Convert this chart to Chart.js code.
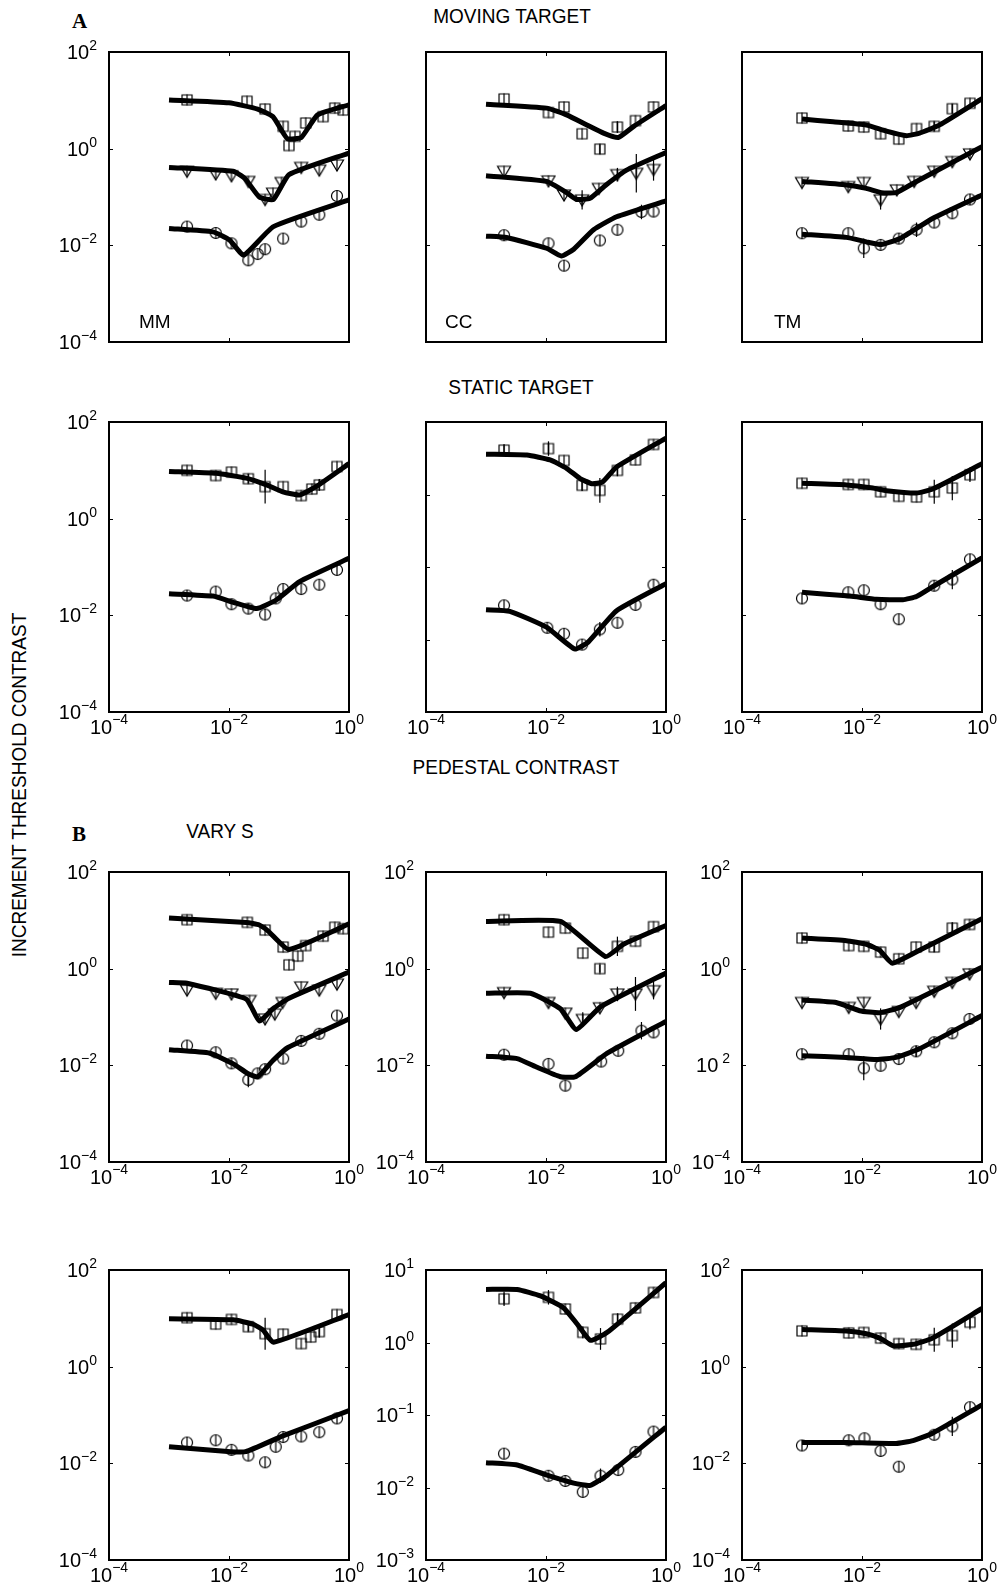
<!DOCTYPE html>
<html>
<head>
<meta charset="utf-8">
<script src="https://cdn.jsdelivr.net/npm/chart.js@4.4.1/dist/chart.umd.min.js"></script>
<style>
  body { margin: 0; background: #fff; }
  #page { position: relative; width: 997px; height: 1593px; background: #fff; overflow: hidden;
          font-family: 'Liberation Sans', Arial, sans-serif; color: #000; }
  #page canvas { position: absolute; }
  .lbl { position: absolute; font-size: 19px; white-space: nowrap; transform: translate(-50%, -50%) scaleY(1.08); }
  .letter { position: absolute; font-family: 'Liberation Serif', serif; font-weight: bold; font-size: 21px; }
  .ytitle { position: absolute; font-size: 19px; white-space: nowrap; transform: translate(-50%, -50%) rotate(-90deg) scaleY(1.08); }
</style>
</head>
<body>
<div id="page">
  <div class="letter" style="left:72px; top:9px;">A</div>
  <div class="lbl" style="left:512px; top:17px;">MOVING TARGET</div>
  <div class="lbl" style="left:521px; top:388px;">STATIC TARGET</div>
  <div class="lbl" style="left:516px; top:768px;">PEDESTAL CONTRAST</div>
  <div class="letter" style="left:72px; top:822px;">B</div>
  <div class="lbl" style="left:220px; top:832px;">VARY S</div>
  <div class="ytitle" style="left:20px; top:785px;">INCREMENT THRESHOLD CONTRAST</div>
</div>
<script>
// axis ticks
const xTickVals = [1e-4, 1e-2, 1];
const yTicksSix = [1e2, 1, 1e-2, 1e-4];
const yTicksFour = [10, 1, 0.1, 0.01, 0.001];
const p9YExp = ['2', '0', ' 2', '\u22124'];   // label printed as "10 2" in the original

// A, moving target, MM
const p1SqX = [0.002, 0.02, 0.04, 0.08, 0.1, 0.126, 0.19, 0.37, 0.58, 0.8];
const p1SqY = [10.2, 9.6, 6.6, 2.9, 1.16, 1.8, 3.4, 4.6, 6.9, 6.3];
const p1TrX = [0.002, 0.006, 0.011, 0.021, 0.04, 0.054, 0.075, 0.16, 0.32, 0.63];
const p1TrY = [0.34, 0.30, 0.275, 0.21, 0.089, 0.12, 0.20, 0.41, 0.36, 0.46];
const p1CiX = [0.002, 0.006, 0.011, 0.021, 0.03, 0.04, 0.08, 0.16, 0.32, 0.63];
const p1CiY = [0.0244, 0.018, 0.011, 0.0049, 0.0066, 0.0083, 0.0138, 0.031, 0.043, 0.105];
const p1FitSqX = [0.001, 0.01, 0.03, 0.054, 0.075, 0.095, 0.16, 0.3, 1];
const p1FitSqY = [10.2, 8.9, 6.6, 4.6, 2.4, 1.6, 1.7, 5.0, 8.1];
const p1FitTrX = [0.001, 0.0117, 0.0183, 0.032, 0.055, 0.1, 1];
const p1FitTrY = [0.41, 0.34, 0.245, 0.10, 0.089, 0.29, 0.81];
const p1FitCiX = [0.001, 0.0054, 0.0102, 0.0176, 0.055, 1];
const p1FitCiY = [0.0224, 0.019, 0.0129, 0.0063, 0.0244, 0.087];

// A, moving target, CC
const p2SqX = [0.002, 0.011, 0.02, 0.04, 0.079, 0.155, 0.31, 0.62];
const p2SqY = [10.7, 5.6, 7.3, 2.03, 0.98, 2.8, 3.8, 7.3];
const p2SqE = [0, 0, 0, 0, 0.1, 0.12, 0, 0];
const p2TrX = [0.002, 0.011, 0.02, 0.04, 0.076, 0.155, 0.32, 0.62];
const p2TrY = [0.34, 0.215, 0.11, 0.087, 0.15, 0.29, 0.31, 0.37];
const p2TrE = [0, 0, 0, 0.2, 0, 0.14, 0.4, 0.23];
const p2CiX = [0.002, 0.011, 0.02, 0.079, 0.155, 0.39, 0.62];
const p2CiY = [0.0162, 0.011, 0.0038, 0.0126, 0.021, 0.049, 0.05];
const p2CiE = [0, 0, 0, 0, 0, 0.15, 0];
const p2FitSqX = [0.001, 0.0102, 0.022, 0.048, 0.091, 0.16, 0.29, 1];
const p2FitSqY = [8.3, 6.9, 5.0, 3.1, 2.1, 1.7, 2.9, 7.8];
const p2FitTrX = [0.001, 0.0102, 0.022, 0.032, 0.054, 0.1, 0.22, 1];
const p2FitTrY = [0.275, 0.21, 0.123, 0.089, 0.094, 0.178, 0.36, 0.83];
const p2FitCiX = [0.001, 0.0022, 0.0102, 0.018, 0.029, 0.062, 0.15, 1];
const p2FitCiY = [0.0155, 0.0145, 0.0087, 0.006, 0.0083, 0.021, 0.039, 0.083];

// A, moving target, TM
const p3SqX = [0.001, 0.0059, 0.0107, 0.0204, 0.041, 0.081, 0.16, 0.32, 0.63];
const p3SqY = [4.3, 2.95, 2.8, 2.03, 1.58, 2.6, 2.9, 6.7, 8.7];
const p3SqE = [0, 0, 0, 0, 0, 0, 0.1, 0.1, 0];
const p3TrX = [0.001, 0.0059, 0.0107, 0.0204, 0.038, 0.074, 0.16, 0.32, 0.63];
const p3TrY = [0.2, 0.164, 0.2, 0.087, 0.14, 0.21, 0.34, 0.54, 0.78];
const p3TrE = [0, 0, 0, 0.2, 0, 0, 0, 0, 0];
const p3CiX = [0.001, 0.0059, 0.0107, 0.0204, 0.041, 0.081, 0.16, 0.32, 0.63];
const p3CiY = [0.0178, 0.0178, 0.0087, 0.0102, 0.0138, 0.021, 0.0296, 0.046, 0.089];
const p3CiE = [0, 0, 0.2, 0, 0, 0.15, 0, 0, 0];
const p3FitSqX = [0.001, 0.0033, 0.0118, 0.0255, 0.055, 0.091, 0.197, 1];
const p3FitSqY = [4.1, 3.6, 3.1, 2.3, 1.86, 2.1, 3.1, 10.8];
const p3FitTrX = [0.001, 0.0055, 0.0118, 0.021, 0.037, 0.081, 1];
const p3FitTrY = [0.21, 0.178, 0.151, 0.123, 0.123, 0.21, 1.1];
const p3FitCiX = [0.001, 0.0055, 0.0118, 0.021, 0.043, 0.15, 1];
const p3FitCiY = [0.017, 0.0146, 0.0118, 0.0104, 0.0138, 0.036, 0.11];

// A, static target, MM
const p4SqX = [0.002, 0.006, 0.011, 0.021, 0.04, 0.08, 0.16, 0.24, 0.32, 0.63];
const p4SqY = [10, 7.8, 9.2, 6.7, 4.6, 4.6, 3.0, 4.1, 5.0, 12];
const p4SqE = [0, 0, 0, 0.1, 0.35, 0, 0, 0, 0.12, 0];
const p4CiX = [0.002, 0.006, 0.011, 0.021, 0.04, 0.06, 0.08, 0.16, 0.32, 0.63];
const p4CiY = [0.0257, 0.031, 0.017, 0.0138, 0.0104, 0.0224, 0.035, 0.035, 0.043, 0.087];
const p4FitSqX = [0.001, 0.0061, 0.0194, 0.042, 0.079, 0.15, 0.29, 1];
const p4FitSqY = [9.5, 8.7, 6.9, 5.0, 3.6, 3.1, 4.7, 13.8];
const p4FitCiX = [0.001, 0.0054, 0.0118, 0.029, 0.062, 0.15, 1];
const p4FitCiY = [0.028, 0.025, 0.0186, 0.0138, 0.021, 0.05, 0.151];

// A, static target, CC
const p5SqX = [0.002, 0.011, 0.02, 0.04, 0.079, 0.155, 0.31, 0.62];
const p5SqY = [4.1, 4.3, 2.95, 1.34, 1.14, 2.15, 3.0, 4.9];
const p5SqE = [0.08, 0.1, 0, 0.08, 0.17, 0.08, 0, 0];
const p5CiX = [0.002, 0.0105, 0.02, 0.04, 0.079, 0.155, 0.31, 0.62];
const p5CiY = [0.0296, 0.0145, 0.012, 0.0085, 0.0138, 0.017, 0.030, 0.057];
const p5CiE = [0, 0, 0, 0, 0.1, 0, 0, 0];
const p5FitSqX = [0.001, 0.0048, 0.0117, 0.022, 0.037, 0.058, 0.088, 0.15, 1];
const p5FitSqY = [3.6, 3.5, 3.0, 2.3, 1.66, 1.41, 1.49, 2.4, 6.0];
const p5FitCiX = [0.001, 0.0025, 0.0102, 0.030, 0.051, 0.15, 1];
const p5FitCiY = [0.0257, 0.0245, 0.0148, 0.0074, 0.0093, 0.025, 0.059];

// A, static target, TM
const p6SqX = [0.001, 0.0059, 0.0107, 0.0204, 0.041, 0.081, 0.16, 0.32, 0.63];
const p6SqY = [5.4, 5.1, 5.1, 3.6, 2.9, 2.8, 3.6, 4.3, 8.1];
const p6SqE = [0, 0, 0, 0, 0, 0, 0.25, 0.25, 0.15];
const p6CiX = [0.001, 0.0059, 0.0107, 0.0204, 0.041, 0.16, 0.32, 0.63];
const p6CiY = [0.0224, 0.030, 0.033, 0.017, 0.0083, 0.041, 0.055, 0.144];
const p6CiE = [0, 0, 0, 0, 0, 0, 0.2, 0];
const p6FitSqX = [0.001, 0.0055, 0.0152, 0.0255, 0.081, 0.15, 1];
const p6FitSqY = [5.4, 5.0, 4.3, 3.8, 3.4, 4.1, 13.7];
const p6FitCiX = [0.001, 0.0063, 0.0174, 0.048, 0.081, 0.15, 1];
const p6FitCiY = [0.030, 0.025, 0.0214, 0.021, 0.0245, 0.039, 0.155];

// B, vary S, MM
const p7SqX = [0.002, 0.0202, 0.04, 0.08, 0.1, 0.14, 0.19, 0.37, 0.58, 0.8];
const p7SqY = [10.3, 9.1, 6.3, 2.8, 1.2, 1.82, 3.0, 4.7, 7.2, 6.7];
const p7TrX = [0.002, 0.006, 0.011, 0.022, 0.04, 0.058, 0.078, 0.16, 0.32, 0.63];
const p7TrY = [0.36, 0.31, 0.30, 0.22, 0.091, 0.115, 0.20, 0.42, 0.36, 0.48];
const p7CiX = [0.002, 0.006, 0.011, 0.021, 0.03, 0.04, 0.08, 0.16, 0.32, 0.63];
const p7CiY = [0.0257, 0.0186, 0.011, 0.005, 0.0068, 0.0083, 0.0138, 0.032, 0.045, 0.107];
const p7CiE = [0, 0, 0, 0.15, 0, 0, 0, 0, 0, 0];
const p7FitSqX = [0.001, 0.0194, 0.032, 0.045, 0.1, 1];
const p7FitSqY = [11.2, 9.0, 8.0, 6.0, 2.5, 8.5];
const p7FitTrX = [0.001, 0.002, 0.0194, 0.032, 0.054, 0.1, 1];
const p7FitTrY = [0.52, 0.5, 0.234, 0.083, 0.148, 0.245, 0.85];
const p7FitCiX = [0.001, 0.0048, 0.0118, 0.0205, 0.030, 0.054, 0.096, 1];
const p7FitCiY = [0.021, 0.0178, 0.0107, 0.0068, 0.0058, 0.0126, 0.0234, 0.091];

// B, vary S, CC
const p8SqX = [0.002, 0.011, 0.021, 0.041, 0.079, 0.155, 0.31, 0.62];
const p8SqY = [10.3, 5.7, 6.9, 2.1, 1.0, 2.9, 3.7, 7.4];
const p8SqE = [0, 0, 0, 0, 0.08, 0.2, 0, 0];
const p8TrX = [0.002, 0.011, 0.021, 0.041, 0.079, 0.155, 0.31, 0.62];
const p8TrY = [0.32, 0.20, 0.12, 0.089, 0.155, 0.30, 0.30, 0.35];
const p8TrE = [0, 0, 0, 0.15, 0, 0.15, 0.35, 0.18];
const p8CiX = [0.002, 0.011, 0.021, 0.083, 0.16, 0.39, 0.62];
const p8CiY = [0.0166, 0.0107, 0.0038, 0.012, 0.020, 0.052, 0.048];
const p8CiE = [0, 0, 0, 0, 0, 0.18, 0];
const p8FitSqX = [0.001, 0.0174, 0.098, 0.195, 1];
const p8FitSqY = [9.5, 9.5, 1.78, 3.2, 7.8];
const p8FitTrX = [0.001, 0.0055, 0.0174, 0.032, 0.081, 1];
const p8FitTrY = [0.31, 0.31, 0.148, 0.055, 0.162, 0.81];
const p8FitCiX = [0.001, 0.0033, 0.0071, 0.0174, 0.031, 0.105, 1];
const p8FitCiY = [0.0155, 0.0138, 0.0091, 0.0058, 0.0058, 0.0178, 0.081];

// B, vary S, TM
const p9SqX = [0.001, 0.006, 0.0107, 0.0204, 0.041, 0.08, 0.16, 0.32, 0.62];
const p9SqY = [4.3, 3.0, 2.9, 2.2, 1.6, 2.8, 2.8, 6.9, 8.2];
const p9SqE = [0, 0, 0, 0, 0, 0, 0.1, 0.12, 0];
const p9TrX = [0.001, 0.006, 0.0107, 0.0204, 0.041, 0.08, 0.16, 0.32, 0.62];
const p9TrY = [0.2, 0.158, 0.2, 0.091, 0.13, 0.2, 0.34, 0.52, 0.78];
const p9TrE = [0, 0, 0, 0.22, 0, 0, 0, 0, 0];
const p9CiX = [0.001, 0.006, 0.0107, 0.0204, 0.041, 0.08, 0.16, 0.32, 0.62];
const p9CiY = [0.017, 0.017, 0.0087, 0.0098, 0.0135, 0.0195, 0.030, 0.046, 0.091];
const p9CiE = [0, 0, 0.25, 0, 0, 0.12, 0, 0, 0];
const p9FitSqX = [0.001, 0.0055, 0.0118, 0.0197, 0.032, 0.091, 1];
const p9FitSqY = [4.3, 3.8, 3.2, 2.4, 1.3, 2.4, 10.8];
const p9FitTrX = [0.001, 0.0037, 0.0091, 0.0197, 0.043, 1];
const p9FitTrY = [0.224, 0.2, 0.135, 0.123, 0.158, 1.07];
const p9FitCiX = [0.001, 0.0055, 0.0174, 0.037, 0.091, 1];
const p9FitCiY = [0.0158, 0.0146, 0.0132, 0.0146, 0.022, 0.107];

// B, bottom row, MM
const p10SqX = [0.002, 0.006, 0.011, 0.021, 0.04, 0.08, 0.16, 0.23, 0.32, 0.63];
const p10SqY = [10.3, 7.6, 9.5, 6.7, 4.8, 4.7, 3.0, 4.1, 5.3, 12];
const p10SqE = [0, 0, 0, 0.1, 0.33, 0, 0, 0, 0.12, 0];
const p10CiX = [0.002, 0.006, 0.011, 0.021, 0.04, 0.06, 0.08, 0.16, 0.32, 0.63];
const p10CiY = [0.0269, 0.030, 0.019, 0.0145, 0.0105, 0.022, 0.035, 0.036, 0.044, 0.085];
const p10FitSqX = [0.001, 0.0117, 0.025, 0.037, 0.055, 1];
const p10FitSqY = [9.8, 9.3, 7.6, 5.7, 3.2, 12];
const p10FitCiX = [0.001, 0.0107, 0.019, 0.079, 1];
const p10FitCiY = [0.022, 0.0174, 0.0174, 0.037, 0.123];

// B, bottom row, CC
const p11SqX = [0.002, 0.011, 0.021, 0.041, 0.081, 0.156, 0.31, 0.62];
const p11SqY = [4.0, 4.2, 2.9, 1.38, 1.12, 2.1, 3.0, 4.9];
const p11SqE = [0.1, 0.1, 0, 0.08, 0.15, 0.08, 0, 0];
const p11CiX = [0.002, 0.011, 0.021, 0.041, 0.081, 0.16, 0.31, 0.62];
const p11CiY = [0.0293, 0.0145, 0.0123, 0.0087, 0.0145, 0.0174, 0.031, 0.059];
const p11CiE = [0, 0, 0, 0, 0.1, 0, 0, 0];
const p11FitSqX = [0.001, 0.0033, 0.0081, 0.0197, 0.033, 0.055, 0.105, 1];
const p11FitSqY = [5.4, 5.4, 4.4, 3.0, 1.8, 1.07, 1.38, 6.7];
const p11FitCiX = [0.001, 0.0033, 0.0104, 0.029, 0.055, 0.105, 1];
const p11FitCiY = [0.022, 0.0204, 0.0148, 0.0115, 0.0107, 0.0148, 0.068];

// B, bottom row, TM
const p12SqX = [0.001, 0.006, 0.0107, 0.0204, 0.041, 0.08, 0.16, 0.32, 0.63];
const p12SqY = [5.5, 5.0, 5.1, 3.9, 3.0, 2.9, 3.6, 4.4, 8.3];
const p12SqE = [0, 0, 0, 0, 0, 0, 0.25, 0.25, 0.15];
const p12CiX = [0.001, 0.006, 0.011, 0.0204, 0.041, 0.16, 0.32, 0.63];
const p12CiY = [0.0234, 0.030, 0.033, 0.018, 0.0085, 0.039, 0.058, 0.145];
const p12CiE = [0, 0, 0, 0, 0, 0, 0.2, 0];
const p12FitSqX = [0.001, 0.0055, 0.0118, 0.0197, 0.033, 0.071, 0.15, 1];
const p12FitSqY = [5.9, 5.5, 4.8, 3.9, 2.7, 2.9, 3.9, 16];
const p12FitCiX = [0.001, 0.0055, 0.037, 0.071, 0.15, 1];
const p12FitCiY = [0.027, 0.027, 0.0257, 0.0295, 0.042, 0.162];

// layout of the 4x3 grid (panel boxes, px)
const colLeft = [109, 426, 742];
const rowTop = [52, 422, 872, 1270];
const PW = 240, PH = 290;
const PAD = { left: 55, right: 25, top: 15, bottom: 30 };
const FONT = "'Liberation Sans', Arial, sans-serif";

// marker glyphs: open shape with the error bar line through it
function makeMarker(kind) {
    const c = document.createElement('canvas');
    c.width = 16; c.height = 16;
    const g = c.getContext('2d');
    g.strokeStyle = '#000';
    g.lineWidth = 1.2;
    g.beginPath();
    if (kind === 'circle') {
        g.arc(8, 8, 5.5, 0, Math.PI * 2);
    } else if (kind === 'square') {
        g.rect(3, 3, 10, 10);
    } else {
        g.moveTo(1.5, 3); g.lineTo(14.5, 3); g.lineTo(8, 14); g.closePath();
    }
    g.stroke();
    g.beginPath();
    g.moveTo(8, 2.5); g.lineTo(8, 13.5);
    g.stroke();
    return c;
}
const markers = { square: makeMarker('square'), tri: makeMarker('tri'), circle: makeMarker('circle') };

function expText(v) {
    const k = Math.round(Math.log10(v));
    return k < 0 ? '\u2212' + (-k) : String(k);
}

const framePlugin = {
    id: 'frame',
    afterDatasetsDraw(chart) {
        const ctx = chart.ctx, xs = chart.scales.x, ys = chart.scales.y;
        ctx.save();
        ctx.strokeStyle = '#000';
        ctx.lineWidth = 1.2;
        chart.data.datasets.forEach(ds => {
            if (!ds.errs) return;
            ds.data.forEach((p, i) => {
                const e = ds.errs[i];
                if (!e) return;
                const f = Math.pow(10, e);
                const px = xs.getPixelForValue(p.x);
                ctx.beginPath();
                ctx.moveTo(px, ys.getPixelForValue(p.y * f));
                ctx.lineTo(px, ys.getPixelForValue(p.y / f));
                ctx.stroke();
            });
        });
        ctx.restore();
    },
    afterDraw(chart, args, o) {
        const ctx = chart.ctx, a = chart.chartArea;
        const xs = chart.scales.x, ys = chart.scales.y;
        ctx.save();
        ctx.strokeStyle = '#000';
        ctx.fillStyle = '#000';
        ctx.lineWidth = 2;
        ctx.strokeRect(a.left, a.top, a.right - a.left, a.bottom - a.top);
        // inward ticks on all four sides
        ctx.lineWidth = 1;
        ctx.beginPath();
        xTickVals.forEach(v => {
            const px = Math.round(xs.getPixelForValue(v)) + 0.5;
            ctx.moveTo(px, a.top); ctx.lineTo(px, a.top + 4);
            ctx.moveTo(px, a.bottom); ctx.lineTo(px, a.bottom - 4);
        });
        o.yTicks.forEach(v => {
            const py = Math.round(ys.getPixelForValue(v)) + 0.5;
            ctx.moveTo(a.left, py); ctx.lineTo(a.left + 4, py);
            ctx.moveTo(a.right, py); ctx.lineTo(a.right - 4, py);
        });
        ctx.stroke();

        if (o.yLabels) {
            ctx.textAlign = 'right';
            o.yTicks.forEach((v, i) => {
                const py = ys.getPixelForValue(v);
                const ex = o.yExp ? o.yExp[i] : expText(v);
                ctx.font = '14px ' + FONT;
                const we = ctx.measureText(ex).width;
                ctx.fillText(ex, a.left - 12, py - 2);
                ctx.font = '20px ' + FONT;
                ctx.fillText('10', a.left - 12 - we, py + 7);
            });
        }
        if (o.xLabels) {
            ctx.textAlign = 'left';
            xTickVals.forEach(v => {
                const px = xs.getPixelForValue(v);
                const ex = expText(v);
                ctx.font = '20px ' + FONT;
                const w10 = ctx.measureText('10').width;
                ctx.font = '14px ' + FONT;
                const we = ctx.measureText(ex).width;
                const x0 = px - (w10 + we) / 2;
                ctx.fillText(ex, x0 + w10, a.bottom + 12);
                ctx.font = '20px ' + FONT;
                ctx.fillText('10', x0, a.bottom + 22);
            });
        }
        if (o.name) {
            ctx.textAlign = 'left';
            ctx.font = '19px ' + FONT;
            ctx.fillText(o.name, a.left + o.nameDx, a.bottom - 14);
        }
        ctx.restore();
    }
};

function pts(xs, ys) {
    return xs.map((v, i) => ({ x: v, y: ys[i] }));
}

function markerSet(kind, xs, ys, errs) {
    return { data: pts(xs, ys), pointStyle: markers[kind], pointRadius: 6, showLine: false, errs: errs || null };
}

function fitLine(xs, ys) {
    return {
        data: pts(xs, ys), showLine: true, pointRadius: 0, borderColor: '#000',
        borderWidth: 5, tension: 0.15, borderJoinStyle: 'round', borderCapStyle: 'butt'
    };
}

function makePanel(p) {
    const cv = document.createElement('canvas');
    const W = PW + PAD.left + PAD.right, H = PH + PAD.top + PAD.bottom;
    cv.width = W; cv.height = H;
    cv.style.width = W + 'px'; cv.style.height = H + 'px';
    cv.style.left = (colLeft[p.col] - PAD.left) + 'px';
    cv.style.top = (rowTop[p.row] - PAD.top) + 'px';
    document.getElementById('page').appendChild(cv);

    new Chart(cv, {
        type: 'scatter',
        data: { datasets: p.marks.concat(p.fits) },
        options: {
            responsive: false,
            animation: false,
            devicePixelRatio: 1,
            events: [],
            layout: { padding: PAD },
            scales: {
                x: { type: 'logarithmic', min: 1e-4, max: 1, display: false },
                y: { type: 'logarithmic', min: p.ymin, max: p.ymax, display: false }
            },
            plugins: {
                legend: { display: false },
                tooltip: { enabled: false },
                frame: {
                    yTicks: p.ymax === 10 ? yTicksFour : yTicksSix,
                    yLabels: p.yLabels, xLabels: p.xLabels,
                    yExp: p.yExp || null, name: p.name || null, nameDx: p.nameDx || 0
                }
            }
        },
        plugins: [framePlugin]
    });
}

const panels = [
    { col: 0, row: 0, ymin: 1e-4, ymax: 100, yLabels: true, xLabels: false, name: 'MM', nameDx: 30,
      marks: [markerSet('square', p1SqX, p1SqY), markerSet('tri', p1TrX, p1TrY), markerSet('circle', p1CiX, p1CiY)],
      fits: [fitLine(p1FitSqX, p1FitSqY), fitLine(p1FitTrX, p1FitTrY), fitLine(p1FitCiX, p1FitCiY)] },
    { col: 1, row: 0, ymin: 1e-4, ymax: 100, yLabels: false, xLabels: false, name: 'CC', nameDx: 19,
      marks: [markerSet('square', p2SqX, p2SqY, p2SqE), markerSet('tri', p2TrX, p2TrY, p2TrE), markerSet('circle', p2CiX, p2CiY, p2CiE)],
      fits: [fitLine(p2FitSqX, p2FitSqY), fitLine(p2FitTrX, p2FitTrY), fitLine(p2FitCiX, p2FitCiY)] },
    { col: 2, row: 0, ymin: 1e-4, ymax: 100, yLabels: false, xLabels: false, name: 'TM', nameDx: 32,
      marks: [markerSet('square', p3SqX, p3SqY, p3SqE), markerSet('tri', p3TrX, p3TrY, p3TrE), markerSet('circle', p3CiX, p3CiY, p3CiE)],
      fits: [fitLine(p3FitSqX, p3FitSqY), fitLine(p3FitTrX, p3FitTrY), fitLine(p3FitCiX, p3FitCiY)] },
    { col: 0, row: 1, ymin: 1e-4, ymax: 100, yLabels: true, xLabels: true,
      marks: [markerSet('square', p4SqX, p4SqY, p4SqE), markerSet('circle', p4CiX, p4CiY)],
      fits: [fitLine(p4FitSqX, p4FitSqY), fitLine(p4FitCiX, p4FitCiY)] },
    { col: 1, row: 1, ymin: 1e-3, ymax: 10, yLabels: false, xLabels: true,
      marks: [markerSet('square', p5SqX, p5SqY, p5SqE), markerSet('circle', p5CiX, p5CiY, p5CiE)],
      fits: [fitLine(p5FitSqX, p5FitSqY), fitLine(p5FitCiX, p5FitCiY)] },
    { col: 2, row: 1, ymin: 1e-4, ymax: 100, yLabels: false, xLabels: true,
      marks: [markerSet('square', p6SqX, p6SqY, p6SqE), markerSet('circle', p6CiX, p6CiY, p6CiE)],
      fits: [fitLine(p6FitSqX, p6FitSqY), fitLine(p6FitCiX, p6FitCiY)] },
    { col: 0, row: 2, ymin: 1e-4, ymax: 100, yLabels: true, xLabels: true,
      marks: [markerSet('square', p7SqX, p7SqY), markerSet('tri', p7TrX, p7TrY), markerSet('circle', p7CiX, p7CiY, p7CiE)],
      fits: [fitLine(p7FitSqX, p7FitSqY), fitLine(p7FitTrX, p7FitTrY), fitLine(p7FitCiX, p7FitCiY)] },
    { col: 1, row: 2, ymin: 1e-4, ymax: 100, yLabels: true, xLabels: true,
      marks: [markerSet('square', p8SqX, p8SqY, p8SqE), markerSet('tri', p8TrX, p8TrY, p8TrE), markerSet('circle', p8CiX, p8CiY, p8CiE)],
      fits: [fitLine(p8FitSqX, p8FitSqY), fitLine(p8FitTrX, p8FitTrY), fitLine(p8FitCiX, p8FitCiY)] },
    { col: 2, row: 2, ymin: 1e-4, ymax: 100, yLabels: true, xLabels: true, yExp: p9YExp,
      marks: [markerSet('square', p9SqX, p9SqY, p9SqE), markerSet('tri', p9TrX, p9TrY, p9TrE), markerSet('circle', p9CiX, p9CiY, p9CiE)],
      fits: [fitLine(p9FitSqX, p9FitSqY), fitLine(p9FitTrX, p9FitTrY), fitLine(p9FitCiX, p9FitCiY)] },
    { col: 0, row: 3, ymin: 1e-4, ymax: 100, yLabels: true, xLabels: true,
      marks: [markerSet('square', p10SqX, p10SqY, p10SqE), markerSet('circle', p10CiX, p10CiY)],
      fits: [fitLine(p10FitSqX, p10FitSqY), fitLine(p10FitCiX, p10FitCiY)] },
    { col: 1, row: 3, ymin: 1e-3, ymax: 10, yLabels: true, xLabels: true,
      marks: [markerSet('square', p11SqX, p11SqY, p11SqE), markerSet('circle', p11CiX, p11CiY, p11CiE)],
      fits: [fitLine(p11FitSqX, p11FitSqY), fitLine(p11FitCiX, p11FitCiY)] },
    { col: 2, row: 3, ymin: 1e-4, ymax: 100, yLabels: true, xLabels: true,
      marks: [markerSet('square', p12SqX, p12SqY, p12SqE), markerSet('circle', p12CiX, p12CiY, p12CiE)],
      fits: [fitLine(p12FitSqX, p12FitSqY), fitLine(p12FitCiX, p12FitCiY)] }
];

panels.forEach(makePanel);
</script>
</body>
</html>
